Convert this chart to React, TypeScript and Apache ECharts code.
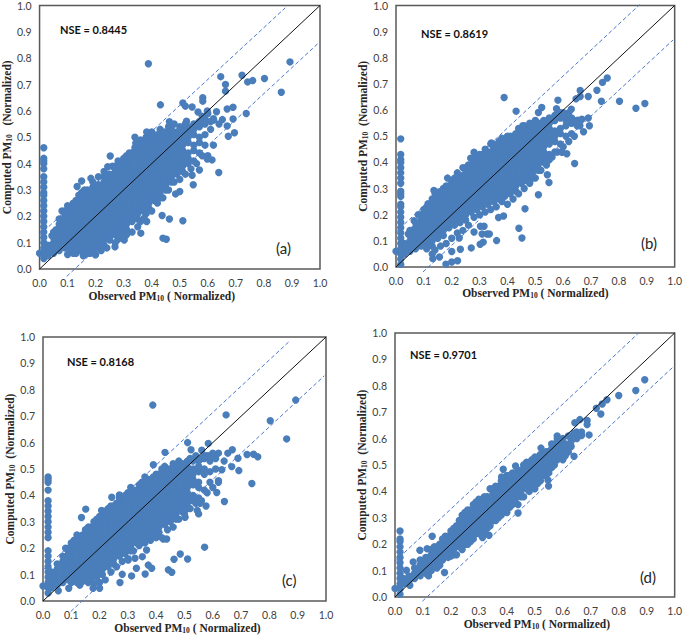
import React, { useEffect, useRef } from "react";
import * as echarts from "echarts";

// Cloud columns: first number is observed x, the rest are computed y (all in hundredths).
const cloudA = [
[3,5,7,9],[5,6,8,10,12,14],[7,7,9,11,13,15,17,19],[9,8,10,12,14,16,18,20,22],
[11,7,9,11,13,15,17,19,21,23],[13,6,8,10,12,14,16,18,20,22,24,26],
[15,7,9,11,13,15,17,19,21,23,25,27,29],[17,6,8,10,12,14,16,18,20,22,24,26,28,30],
[19,7,9,11,13,15,17,19,21,23,25,27,29,31],[21,8,10,12,14,16,18,20,22,24,26,28,30,32],
[23,9,11,13,15,17,19,21,23,25,27,29,31,33,35],[25,12,14,16,18,20,22,24,26,28,30,32,34,36],
[27,13,15,17,19,21,23,25,27,29,31,33,35,37,39],[29,14,16,18,20,22,24,26,28,30,32,34,36,38,40],
[31,15,17,19,21,23,25,27,29,31,33,35,37,39,41,43],[33,18,20,22,24,26,28,30,32,34,36,38,40,42,44],
[35,19,21,23,25,27,29,31,33,35,37,39,41,43,45,47],[37,22,24,26,28,30,32,34,36,38,40,42,44,46,48],
[39,23,25,27,29,31,33,35,37,39,41,43,45,47,49,51],[41,26,28,30,32,34,36,38,40,42,44,46,48,50],
[43,27,29,31,33,35,37,39,41,43,45,47,49,51,53],[45,30,32,34,36,38,40,42,44,46,48,50,52],
[47,33,35,37,39,41,43,45,47,49,51,53],[49,36,38,40,42,44,46,48,50,52],
[51,37,39,41,43,45,47,49,51,53],[53,40,42,44,48,50,52,54],
[55,41,45,47,51,53,55],[57,44,48,50,54,56],[59,47,51,55,57],[61,53,56],
];
const cloudB = [
[3,5,7,9],[5,6,8,10,12,14],[7,7,9,11,13,15,17],[9,8,10,12,14,16,18,20],
[11,9,11,13,15,17,19,21,23],[13,10,12,14,16,18,20,22,24,26],[15,11,13,15,17,19,21,23,25,27],
[17,12,14,16,18,20,22,24,26,28,30],[19,15,17,19,21,23,25,27,29,31],[21,16,18,20,22,24,26,28,30,32,34],
[23,17,19,21,23,25,27,29,31,33,35],[25,18,20,22,24,26,28,30,32,34,36,38],
[27,21,23,25,27,29,31,33,35,37,39],[29,22,24,26,28,30,32,34,36,38,40,42],
[31,23,25,27,29,31,33,35,37,39,41,43],[33,24,26,28,30,32,34,36,38,40,42,44],
[35,25,27,29,31,33,35,37,39,41,43,45,47],[37,26,28,30,32,34,36,38,40,42,44,46,48],
[39,27,29,31,33,35,37,39,41,43,45,47,49],[41,28,30,32,34,36,38,40,42,44,46,48,50],
[43,29,31,33,35,37,39,41,43,45,47,49,51],[45,32,34,36,38,40,42,44,46,48,50,52],
[47,33,35,37,39,41,43,45,47,49,51,53],[49,34,36,38,40,42,44,46,48,50,52,54],
[51,37,39,41,43,45,47,49,51,53,55],[53,40,42,44,46,48,50,52,54,56],[55,41,43,47,49,51,53,55,57],
[57,44,48,50,52,56,58],[59,47,51,53,57,59],[61,50,54,56,58],[63,51,55,57],[65,54],
];
const cloudC = [
[3,5,7,9,11],[5,6,8,10,12,14],[7,7,9,11,13,15,17],[9,8,10,12,14,16,18,20],
[11,9,11,13,15,17,19,21,23],[13,8,10,12,14,16,18,20,22,24],[15,9,11,13,15,17,19,21,23,25,27],
[17,8,10,12,14,16,18,20,22,24,26,28],[19,9,11,13,15,17,19,21,23,25,27,29,31],
[21,10,12,14,16,18,20,22,24,26,28,30,32],[23,13,15,17,19,21,23,25,27,29,31,33,35],
[25,14,16,18,20,22,24,26,28,30,32,34,36],[27,17,19,21,23,25,27,29,31,33,35,37,39],
[29,18,20,22,24,26,28,30,32,34,36,38,40],[31,19,21,23,25,27,29,31,33,35,37,39,41,43],
[33,22,24,26,28,30,32,34,36,38,40,42],[35,23,25,27,29,31,33,35,37,39,41,43,45],
[37,24,26,28,30,32,34,36,38,40,42,44,46],[39,25,27,29,31,33,35,37,39,41,43,45,47],
[41,26,28,30,32,34,36,38,40,42,44,46,48],[43,29,31,33,35,37,39,41,43,45,47,49,51],
[45,30,32,34,36,38,40,42,44,46,48,50],[47,31,33,35,37,39,41,43,45,47,49,51],
[49,34,36,38,40,42,44,46,48,50,52],[51,35,37,39,41,43,45,47,49,51,53],
[53,38,40,44,46,48,50,53],[55,39,43,45,49,51,53],[57,42,48,50,54,55],
[59,45,49,53,55],[61,50,54],
];
const cloudD = [
[3,5,7],[5,6,8],[7,7,9,11],[9,8,10,12,14],[11,9,11,13,15],[13,10,12,14,16,18],[15,11,13,15,17,19],
[17,14,16,18,20,22],[19,15,17,19,21,23],[21,16,18,20,22,24,26],[23,19,21,23,25,27,29],
[25,20,22,24,26,28,30,32],[27,21,23,25,27,29,31,33],[29,24,26,28,30,32,34,36],
[31,25,27,29,31,33,35,37],[33,26,28,30,32,34,36,38],[35,29,31,33,35,37,39,41],
[37,30,32,34,36,38,40,42],[39,33,35,37,39,41,43,45],[41,34,36,38,40,42,44,46],
[43,37,39,41,43,45,47],[45,38,40,42,44,46,48],[47,41,43,45,47,49,51],[49,42,44,46,48,50,52],
[51,43,45,47,49,51,53],[53,46,48,50,52,54],[55,47,49,51,53,55],[57,50,52,54,56,58],
[59,53,55,57,59],[61,54,56,58],[63,57,59,61],[65,60,62],
];

// Uneven points along the upper and lower edges of each cloud.
const fringeA = [[8,22],[10,24],[12,25],[14,28],[16,30],[19,33],[21,35],[23,37],[26,39],[28,41],[30,42],[32,44],[34,46],[36,49],[38,50],[40,52],[42,51],[44,52],[46,54],[48,55],[50,54],[52,55],[54,53],[56,55],[58,58],[60,59],[62,57],[64,55],[10,5.5],[12,6],[14,7],[16,5.5],[18,6],[20,5.5],[22,7],[24,8],[25,11],[27,10],[29,12],[31,13],[33,14],[35,16],[36,18],[38,21],[40,22],[42,25],[44,27],[46,30],[48,33],[50,34],[52,36],[54,38],[56,40],[58,43],[60,43],[62,47]];
const fringeB = [[11,7],[13,8],[14,6.5],[16,8],[18,9],[20,11],[22,13],[24,14],[26,16],[28,19],[30,20],[32,21],[34,22],[36,23],[38,25],[40,24],[42,26],[44,28],[46,30],[48,32],[50,34],[52,37],[54,39],[56,42],[58,44],[60,46],[62,48],[64,50],[8,20],[10,22],[12,24],[14,28],[16,28],[18,31],[20,33],[22,36],[24,38],[26,39],[28,40],[30,43],[32,45],[34,47],[36,46],[38,49],[40,50],[42,50],[44,53],[46,54],[48,55],[50,56],[52,55],[54,55],[56,56],[58,58],[60,59],[62,59],[64,56],[66,54]];
const fringeC = [[10,7],[12,7],[14,7.5],[16,7],[18,6.5],[20,7],[22,8],[24,11],[26,13],[28,15],[30,16],[32,19],[34,21],[36,22],[38,23],[40,24],[42,24],[44,27],[46,28],[48,31],[50,33],[52,35],[54,37],[56,38],[58,41],[60,43],[62,45],[8,20],[10,22],[12,25],[14,25],[16,28],[18,30],[20,32],[22,34],[24,36],[26,37],[28,39],[30,41],[32,42],[34,44],[36,47],[38,46],[40,48],[42,50],[44,50],[46,52],[48,53],[50,52],[52,54],[54,55],[56,54],[58,55],[60,56],[62,56],[64,53]];
const fringeD = [[12,8],[16,12],[20,15.5],[22,16],[24,18],[26,20],[28,22],[30,24],[32,24],[34,27],[36,29],[38,31],[40,32],[42,35],[44,35],[46,38],[48,40],[50,41],[52,44],[54,46],[56,49],[58,52],[60,52],[62,55],[12,15],[14,19],[16,20],[18,23],[20,25],[22,27],[24,31],[26,33],[28,35],[30,37],[32,38],[34,41],[36,42],[38,44],[40,46],[42,47],[44,48],[46,50],[48,51],[50,53],[52,54],[54,55],[56,58],[58,60],[60,60],[62,61],[64,62]];

// The vertical strip of points near observed = 0.
const stripA = [[0,6],[1.5,4],[1.5,6],[1.5,8],[1.5,10],[1.5,12],[1.5,14],[1.5,16],[1.5,18],[1.5,20],[1.5,22],[1.5,24],[1.5,26],[1.5,28],[1.5,29],[1.5,31],[1.5,33],[1.5,35],[1.5,38],[1.5,40],[1.5,41],[1.5,42],[1.5,46]];
const stripB = [[0,6],[1.7,1],[1.7,3],[1.7,5],[1.7,7],[1.7,9],[1.7,11],[1.7,13],[1.7,15],[1.7,17],[1.7,19],[1.7,21],[1.7,23],[1.7,24],[1.7,27],[1.7,28],[1.7,29],[1.7,32],[1.7,34],[1.7,36],[1.7,38],[1.7,40],[1.7,41],[1.7,43],[1.7,49]];
const stripC = [[0,5.7],[1.8,3],[1.8,5],[1.8,7],[1.8,9],[1.8,11],[1.8,13],[1.8,15],[1.8,17],[1.8,19],[1.8,24],[1.8,26],[1.8,28],[1.8,30],[1.8,32],[1.8,34],[1.8,36],[1.8,38],[1.8,42],[1.8,45],[1.8,46],[1.8,47]];
const stripD = [[0,3.2],[1.8,1],[1.8,3],[1.8,5],[1.8,7],[1.8,9],[1.8,11],[1.8,13],[1.8,15],[1.8,17],[1.8,19],[1.8,21],[1.8,22],[1.8,25]];

// Scattered points outside the dense cloud.
const outliersA = [[38.8,77.9],[89.3,78.6],[72.2,73.5],[74.2,71],[76,71.5],[80.2,72.3],[86.2,67.1],[64.6,73],[66.3,70],[66.3,67.5],[58.2,65],[58.2,63.7],[51.1,63],[52,61.8],[54.4,61.5],[43.1,62.3],[56.5,59.6],[59.8,60],[63.1,59.7],[66.9,60.7],[69,61.4],[73.7,59],[69,56.9],[65.2,56.7],[62.1,56.5],[66.9,54.3],[67.3,50.4],[69.5,51.7],[52.4,56.1],[46.3,55.9],[38.2,52],[34,50],[63.9,36.6],[59.8,41.7],[61.5,41.4],[57,37.6],[54.4,35.6],[54.8,32],[50,29.4],[48.5,28.5],[51.1,18.3],[46.3,19],[43.7,20.3],[44,11.7],[45.2,11.3],[36.1,13.6],[37.3,19.3],[38.2,18],[30.2,11],[28,11.3],[26.9,8.4],[21.9,8],[19.9,5.4],[15.6,5],[4.4,12.6],[5.9,14.9],[13.4,31.3],[15,33.4],[18.3,34.4],[25.2,42.9],[24.3,38.8],[34.3,47.7]];
const outliersB = [[38.8,64.8],[43.1,59.6],[51.1,59.1],[52.3,61],[58.1,63.8],[57.6,60.5],[62.9,60.3],[64.6,64.3],[66.1,67.5],[66.1,65.2],[69,65.2],[72.1,67.6],[74.1,70.6],[75.8,72.3],[73.7,63.4],[80.2,63.4],[86.1,60.7],[89.3,62.5],[69,57],[69.4,54],[66.7,56.5],[67.3,51.7],[65.2,56.1],[64.1,39.6],[59.6,43.9],[61.3,43.3],[54.3,35.3],[54.9,32.3],[51.1,27.6],[46.3,22.3],[44.1,14.8],[45.2,11.1],[36.1,10.1],[30.2,8.7],[31.3,9.5],[27,7.3],[23.1,6.8],[22.1,2.4],[20,5.9],[20,1.9],[17.9,1.1],[28,13.4],[30.3,15.6],[31.6,15.6],[30.9,12.6],[32.7,12.6],[33.5,12.6],[36.8,18.9],[38.6,19.5],[22.7,11.1],[13,5],[15.6,3.8],[13.2,3.2],[4.4,12.6],[5.9,14.1],[6.5,17.7],[11.5,24.2],[13.6,29.3],[15.6,28.8],[18.5,34],[28,43.9],[26.8,41.6],[34.2,47.4],[38,49.2],[45.5,54],[48.4,54.2]];
const outliersC = [[38.8,74.2],[64.7,70.5],[89.3,76.1],[80.3,68.3],[86.1,61.4],[73.8,44.5],[64.1,37.7],[57.1,20.4],[51.1,15.9],[48.5,17.8],[46.3,15.8],[44.3,11.8],[45.5,10.9],[38.4,12.4],[36.1,10.2],[31.3,9.5],[27.2,7],[28,10.1],[15.1,34.8],[13.6,31.6],[20.7,34.3],[24.3,39.3],[27,40.2],[43.1,56.3],[51.1,60],[52.3,57.3],[56.1,57.1],[58.4,59.7],[66.9,57.3],[65.3,56],[72.1,55.5],[74.4,55.6],[75.9,54.6],[68.9,54.1],[66.7,50.9],[69.2,49.4],[63.2,49.7],[61.4,41.1],[62,45.6],[57.6,36],[55.5,37],[54.5,34.3],[55,33],[50.2,31.7],[39,51.6],[9.1,4.8],[5.4,3.9],[13,6],[17.7,4.8],[20,4.8],[42.5,23.5],[43.7,23.5],[36.6,19.3],[35.1,16.8],[32.5,16.2],[30.1,15.5],[37.2,13.6],[33,12.4]];
const outliersD = [[89.3,82.3],[86.1,78.2],[80,76.3],[75.8,74.7],[74.1,73.1],[73.6,69.3],[72,71.5],[68.7,66.9],[68.7,65.3],[66.1,67.2],[64.3,66],[69.4,61.4],[66.7,62.5],[66.7,61.2],[64.9,62.5],[60.8,53.4],[64,53.3],[52.2,56.4],[38.7,48.4],[43.1,49.6],[38.1,45.5],[54.7,44.2],[54.9,42],[44,31.8],[33.6,23.4],[31.3,22.5],[13.3,23],[8.9,17.7],[11.5,18.3],[4.1,10.1],[17.7,9.3],[6.5,13.3],[5.3,4.4],[54.3,54.9],[56,56.2],[58,61]];

const upperEnds = [[[-1.8,11.1],[87.6,99.1]],[[-2.1,11.3],[87.4,100.3]],[[-1.8,9.9],[87.4,98.7]],[[-1.8,11.7],[87.1,100]]];
const lowerEnds = [[[9.7,-2.8],[99.4,85.7]],[[9.7,-1.9],[99.4,86.8]],[[9.8,-4],[99.4,85.3]],[[9.8,-1.6],[99.2,86.9]]];
const identityEnds = [[0,0],[100,100]];

const nseLabels = ["NSE = 0.8445", "NSE = 0.8619", "NSE = 0.8168", "NSE = 0.9701"];
const panelLabels = ["(a)", "(b)", "(c)", "(d)"];
const clouds = [cloudA, cloudB, cloudC, cloudD];
const fringes = [fringeA, fringeB, fringeC, fringeD];
const strips = [stripA, stripB, stripC, stripD];
const outliers = [outliersA, outliersB, outliersC, outliersD];
const yNames = ["{n|Computed PM}{s|10}{n|   (Normalized)}", "{n|Computed PM}{s|10}{n|  (Normalized)}", "{n|Computed PM}{s|10}{n|  (Normalized)}", "{n|Computed PM}{s|10}{n|  (Normalized)}"];
const xName = "{n|Observed PM}{s|10}{n| ( Normalized)}";

const boxes = [
  { left: 38, top: 5, width: 282, height: 264, nse: [60, 29], tag: [276, 248], xShift: -18, yGap: 26, xGap: 21 },
  { left: 396, top: 3, width: 282, height: 264, nse: [421, 33], tag: [641, 243], xShift: 0, yGap: 26, xGap: 20 },
  { left: 43, top: 337, width: 283, height: 264, nse: [67, 361], tag: [282, 580], xShift: 3, yGap: 27, xGap: 21 },
  { left: 395, top: 333, width: 282, height: 264, nse: [410, 354], tag: [640, 577], xShift: 2, yGap: 27, xGap: 21 },
];

const BLUE = "#4a7ebb";
const DASH = "#4a78cf";
const rich = {
  n: { fontFamily: "Liberation Serif", fontWeight: "bold", fontSize: 11.5, color: "#262626" },
  s: { fontFamily: "Liberation Serif", fontWeight: "bold", fontSize: 7.5, color: "#262626", padding: [4, 0, 0, 0] },
};
const scale = (p: number[]) => [p[0] / 100, p[1] / 100];

function pointsOf(i: number) {
  const pts: number[][] = [];
  clouds[i].forEach((col) => col.slice(1).forEach((y) => pts.push([col[0] / 100, y / 100])));
  fringes[i].forEach((p) => pts.push(scale(p)));
  strips[i].forEach((p) => pts.push(scale(p)));
  outliers[i].forEach((p) => pts.push(scale(p)));
  return pts;
}

export default function App() {
  const ref = useRef<HTMLDivElement>(null);
  useEffect(() => {
    if (!ref.current) return;
    const chart = echarts.init(ref.current, undefined, { renderer: "svg" });
    const axisLabel = { fontFamily: "Lato", fontSize: 10.5, color: "#404040", formatter: (v: number) => v.toFixed(1) };
    const series: any[] = [];
    boxes.forEach((_, i) => {
      series.push({
        type: "scatter", xAxisIndex: i, yAxisIndex: i, data: pointsOf(i), symbol: "circle", symbolSize: 7.4,
        itemStyle: { color: BLUE, opacity: 1 }, clip: false, z: 2,
      });
      series.push({
        type: "line", xAxisIndex: i, yAxisIndex: i, data: identityEnds.map(scale), showSymbol: false, symbol: "none",
        lineStyle: { color: "#111", width: 1 }, clip: false, z: 3,
      });
      [upperEnds[i], lowerEnds[i]].forEach((ends) => series.push({
        type: "line", xAxisIndex: i, yAxisIndex: i, data: ends.map(scale), showSymbol: false, symbol: "none",
        lineStyle: { color: DASH, width: 1, type: [4, 2.5] }, clip: false, z: 3,
      }));
    });
    chart.setOption({
      animation: false,
      backgroundColor: "#fff",
      grid: boxes.map((b) => ({
        left: b.left, top: b.top, width: b.width, height: b.height, show: true,
        borderColor: "#595959", borderWidth: 1.5, backgroundColor: "transparent",
      })),
      xAxis: boxes.map((b, i) => ({
        type: "value", gridIndex: i, min: 0, max: 1, interval: 0.1,
        axisLine: { show: false }, axisTick: { show: false }, splitLine: { show: false },
        axisLabel: { ...axisLabel, margin: 8 },
        name: xName, nameLocation: "middle", nameGap: b.xGap,
        nameTextStyle: { rich, padding: b.xShift < 0 ? [0, -2 * b.xShift, 0, 0] : [0, 0, 0, 2 * b.xShift] },
      })),
      yAxis: boxes.map((b, i) => ({
        type: "value", gridIndex: i, min: 0, max: 1, interval: 0.1,
        axisLine: { show: false }, axisTick: { show: false }, splitLine: { show: false },
        axisLabel: { ...axisLabel, margin: 8 },
        name: yNames[i], nameLocation: "middle", nameGap: b.yGap, nameRotate: 90,
        nameTextStyle: { rich },
      })),
      series,
      graphic: boxes.flatMap((b, i) => [
        { type: "text", x: b.nse[0], y: b.nse[1], style: { text: nseLabels[i], fontFamily: "Lato", fontWeight: "bold", fontSize: 11, fill: "#111", textVerticalAlign: "middle" } },
        { type: "text", x: b.tag[0], y: b.tag[1], style: { text: panelLabels[i], fontFamily: "Lato", fontSize: 15, fill: "#262626", textVerticalAlign: "middle" } },
      ]),
    });
    return () => chart.dispose();
  }, []);
  return <div ref={ref} style={{ position: "absolute", left: 0, top: 0, width: 685, height: 636 }} />;
}
